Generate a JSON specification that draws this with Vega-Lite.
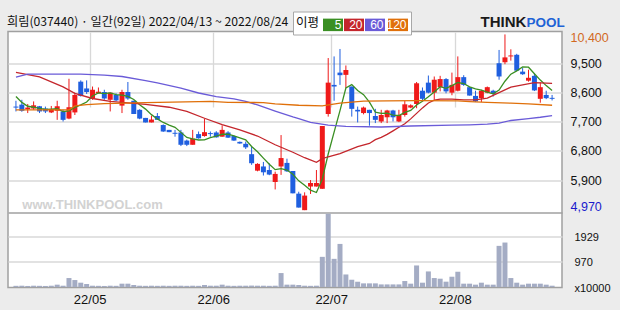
{
"$schema": "https://vega.github.io/schema/vega-lite/v6.json",
"width": 554, "height": 256,
"autosize": "none",
"padding": {"left": 8, "top": 31.5, "right": 58, "bottom": 22.5},
"background": "#ececec",
"config": {"view": {"fill": "white", "stroke": "#a0a0a0", "strokeWidth": 1.5}, "font": "Liberation Sans"},
"title": {"text": "희림(037440) · 일간(92일) 2022/04/13 ~ 2022/08/24", "anchor": "start", "frame": "group", "font": "Noto Sans CJK KR", "fontSize": 12.2, "fontWeight": "normal", "color": "#111111", "baseline": "alphabetic", "offset": -27, "dx": -1},
"datasets": {
"k": [
{"i":0,"o":8170,"h":8350,"l":8020,"c":8140,"d":"d","v":45},
{"i":1,"o":8230,"h":8380,"l":8010,"c":8040,"d":"d","v":50},
{"i":2,"o":8090,"h":8250,"l":7970,"c":8140,"d":"u","v":40},
{"i":3,"o":8110,"h":8330,"l":8070,"c":8210,"d":"u","v":50},
{"i":4,"o":8180,"h":8190,"l":7970,"c":8020,"d":"d","v":45},
{"i":5,"o":8110,"h":8170,"l":7970,"c":8020,"d":"d","v":40},
{"i":6,"o":7990,"h":8190,"l":7970,"c":8090,"d":"u","v":50},
{"i":7,"o":8040,"h":8350,"l":7760,"c":8180,"d":"u","v":90},
{"i":8,"o":8020,"h":8070,"l":7710,"c":7760,"d":"d","v":50},
{"i":9,"o":7800,"h":9030,"l":7780,"c":8150,"d":"u","v":345},
{"i":10,"o":7990,"h":8600,"l":7910,"c":8530,"d":"u","v":268},
{"i":11,"o":8940,"h":8980,"l":8480,"c":8500,"d":"d","v":166},
{"i":12,"o":8730,"h":8980,"l":8560,"c":8620,"d":"d","v":115},
{"i":13,"o":8420,"h":8790,"l":8380,"c":8690,"d":"u","v":50},
{"i":14,"o":8580,"h":8760,"l":8580,"c":8630,"d":"u","v":45},
{"i":15,"o":8620,"h":8690,"l":8380,"c":8420,"d":"d","v":40},
{"i":16,"o":8380,"h":8600,"l":8020,"c":8600,"d":"u","v":50},
{"i":17,"o":8530,"h":8580,"l":8340,"c":8360,"d":"d","v":45},
{"i":18,"o":8200,"h":8690,"l":7970,"c":8620,"d":"u","v":128},
{"i":19,"o":8620,"h":8930,"l":8380,"c":8420,"d":"d","v":128},
{"i":20,"o":8350,"h":8350,"l":7940,"c":7940,"d":"d","v":77},
{"i":21,"o":8070,"h":8090,"l":7780,"c":7800,"d":"d","v":50},
{"i":22,"o":7820,"h":7820,"l":7680,"c":7680,"d":"d","v":45},
{"i":23,"o":7680,"h":7890,"l":7680,"c":7770,"d":"u","v":50},
{"i":24,"o":7880,"h":7970,"l":7760,"c":7760,"d":"d","v":45},
{"i":25,"o":7600,"h":7620,"l":7390,"c":7400,"d":"d","v":50},
{"i":26,"o":7450,"h":7450,"l":7380,"c":7380,"d":"d","v":45},
{"i":27,"o":7360,"h":7450,"l":7240,"c":7330,"d":"d","v":50},
{"i":28,"o":7370,"h":7450,"l":6950,"c":6990,"d":"d","v":50},
{"i":29,"o":7120,"h":7150,"l":6950,"c":6990,"d":"d","v":45},
{"i":30,"o":6990,"h":7450,"l":6990,"c":7180,"d":"u","v":50},
{"i":31,"o":7320,"h":7400,"l":7180,"c":7190,"d":"d","v":45},
{"i":32,"o":7260,"h":7790,"l":7240,"c":7380,"d":"u","v":77},
{"i":33,"o":7350,"h":7400,"l":7240,"c":7320,"d":"d","v":50},
{"i":34,"o":7370,"h":7410,"l":7210,"c":7220,"d":"d","v":50},
{"i":35,"o":7240,"h":7590,"l":7240,"c":7450,"d":"u","v":90},
{"i":36,"o":7370,"h":7410,"l":7200,"c":7210,"d":"d","v":50},
{"i":37,"o":7260,"h":7280,"l":7110,"c":7120,"d":"d","v":45},
{"i":38,"o":7080,"h":7090,"l":7020,"c":7030,"d":"d","v":50},
{"i":39,"o":7020,"h":7090,"l":6860,"c":6910,"d":"d","v":50},
{"i":40,"o":6700,"h":6930,"l":6370,"c":6420,"d":"d","v":55},
{"i":41,"o":6190,"h":6420,"l":6170,"c":6400,"d":"u","v":50},
{"i":42,"o":6320,"h":6460,"l":6040,"c":6140,"d":"d","v":50},
{"i":43,"o":6210,"h":6420,"l":6050,"c":6070,"d":"d","v":45},
{"i":44,"o":5840,"h":6160,"l":5610,"c":6090,"d":"u","v":50},
{"i":45,"o":6320,"h":7290,"l":6060,"c":6580,"d":"u","v":537},
{"i":46,"o":6430,"h":6560,"l":6150,"c":6170,"d":"d","v":90},
{"i":47,"o":6180,"h":6180,"l":5490,"c":5490,"d":"d","v":90},
{"i":48,"o":5480,"h":5540,"l":5050,"c":5050,"d":"d","v":77},
{"i":49,"o":4970,"h":5520,"l":4970,"c":5420,"d":"u","v":50},
{"i":50,"o":5700,"h":5900,"l":5470,"c":5810,"d":"u","v":45},
{"i":51,"o":5700,"h":6210,"l":5700,"c":5810,"d":"u","v":50},
{"i":52,"o":5630,"h":7570,"l":5630,"c":7570,"d":"u","v":1162},
{"i":53,"o":7940,"h":9670,"l":7860,"c":8910,"d":"u","v":2823},
{"i":54,"o":8840,"h":9720,"l":8350,"c":8790,"d":"d","v":1085},
{"i":55,"o":9220,"h":9950,"l":8840,"c":9140,"d":"d","v":1660},
{"i":56,"o":9150,"h":9440,"l":8740,"c":9300,"d":"u","v":483},
{"i":57,"o":8790,"h":8790,"l":7860,"c":8100,"d":"d","v":280},
{"i":58,"o":8070,"h":8170,"l":7680,"c":8020,"d":"d","v":203},
{"i":59,"o":7970,"h":8170,"l":7930,"c":8140,"d":"u","v":140},
{"i":60,"o":8070,"h":8070,"l":7580,"c":7970,"d":"d","v":140},
{"i":61,"o":7880,"h":8100,"l":7660,"c":7760,"d":"d","v":140},
{"i":62,"o":7710,"h":8070,"l":7660,"c":7910,"d":"u","v":100},
{"i":63,"o":7840,"h":8070,"l":7660,"c":8050,"d":"u","v":100},
{"i":64,"o":8050,"h":8070,"l":7710,"c":7840,"d":"d","v":100},
{"i":65,"o":7710,"h":8070,"l":7690,"c":7910,"d":"u","v":100},
{"i":66,"o":7910,"h":8350,"l":7860,"c":8240,"d":"u","v":230},
{"i":67,"o":8140,"h":8240,"l":8120,"c":8210,"d":"u","v":128},
{"i":68,"o":8250,"h":8930,"l":8120,"c":8890,"d":"u","v":830},
{"i":69,"o":8660,"h":8760,"l":8330,"c":8410,"d":"d","v":166},
{"i":70,"o":8910,"h":9130,"l":8580,"c":8600,"d":"d","v":600},
{"i":71,"o":8600,"h":9100,"l":8380,"c":9000,"d":"u","v":345},
{"i":72,"o":8770,"h":9120,"l":8640,"c":9020,"d":"u","v":320},
{"i":73,"o":9020,"h":9050,"l":8580,"c":8640,"d":"d","v":205},
{"i":74,"o":8600,"h":9220,"l":8520,"c":8840,"d":"u","v":396},
{"i":75,"o":8660,"h":9720,"l":8640,"c":9080,"d":"u","v":588},
{"i":76,"o":9080,"h":9140,"l":8810,"c":8840,"d":"d","v":128},
{"i":77,"o":8770,"h":8770,"l":8510,"c":8510,"d":"d","v":128},
{"i":78,"o":8500,"h":8660,"l":8310,"c":8330,"d":"d","v":90},
{"i":79,"o":8430,"h":8690,"l":8310,"c":8660,"d":"u","v":166},
{"i":80,"o":8600,"h":8790,"l":8580,"c":8770,"d":"u","v":90},
{"i":81,"o":8660,"h":8690,"l":8480,"c":8560,"d":"d","v":90},
{"i":82,"o":9510,"h":9920,"l":9000,"c":9100,"d":"d","v":1585},
{"i":83,"o":9540,"h":10400,"l":9480,"c":9690,"d":"u","v":1713},
{"i":84,"o":9720,"h":9940,"l":9590,"c":9750,"d":"u","v":345},
{"i":85,"o":9770,"h":9800,"l":9270,"c":9280,"d":"d","v":166},
{"i":86,"o":9250,"h":9360,"l":9150,"c":9170,"d":"d","v":90},
{"i":87,"o":8970,"h":9310,"l":8940,"c":9060,"d":"u","v":128},
{"i":88,"o":9120,"h":9200,"l":8650,"c":8670,"d":"d","v":128},
{"i":89,"o":8410,"h":8920,"l":8290,"c":8770,"d":"u","v":128},
{"i":90,"o":8530,"h":8660,"l":8400,"c":8430,"d":"d","v":90},
{"i":91,"o":8440,"h":8530,"l":8360,"c":8410,"d":"d","v":50}
],
"m": [
{"i":0,"m":"5","v":8480},{"i":1,"m":"5","v":8300},{"i":2,"m":"5","v":8180},{"i":3,"m":"5","v":8150},{"i":4,"m":"5","v":8115},{"i":5,"m":"5","v":8084},{"i":6,"m":"5","v":8094},{"i":7,"m":"5","v":8103},{"i":8,"m":"5","v":8012},{"i":9,"m":"5","v":8039},{"i":10,"m":"5","v":8142},{"i":11,"m":"5","v":8224},{"i":12,"m":"5","v":8313},{"i":13,"m":"5","v":8499},{"i":14,"m":"5","v":8595},{"i":15,"m":"5","v":8573},{"i":16,"m":"5","v":8593},{"i":17,"m":"5","v":8540},{"i":18,"m":"5","v":8527},{"i":19,"m":"5","v":8484},{"i":20,"m":"5","v":8389},{"i":21,"m":"5","v":8228},{"i":22,"m":"5","v":8092},{"i":23,"m":"5","v":7921},{"i":24,"m":"5","v":7789},{"i":25,"m":"5","v":7680},{"i":26,"m":"5","v":7596},{"i":27,"m":"5","v":7530},{"i":28,"m":"5","v":7373},{"i":29,"m":"5","v":7218},{"i":30,"m":"5","v":7175},{"i":31,"m":"5","v":7138},{"i":32,"m":"5","v":7144},{"i":33,"m":"5","v":7214},{"i":34,"m":"5","v":7261},{"i":35,"m":"5","v":7315},{"i":36,"m":"5","v":7319},{"i":37,"m":"5","v":7268},{"i":38,"m":"5","v":7206},{"i":39,"m":"5","v":7144},{"i":40,"m":"5","v":6938},{"i":41,"m":"5","v":6775},{"i":42,"m":"5","v":6579},{"i":43,"m":"5","v":6387},{"i":44,"m":"5","v":6222},{"i":45,"m":"5","v":6255},{"i":46,"m":"5","v":6210},{"i":47,"m":"5","v":6080},{"i":48,"m":"5","v":5876},{"i":49,"m":"5","v":5742},{"i":50,"m":"5","v":5587},{"i":51,"m":"5","v":5515},{"i":52,"m":"5","v":5932},{"i":53,"m":"5","v":6705},{"i":54,"m":"5","v":7379},{"i":55,"m":"5","v":8045},{"i":56,"m":"5","v":8744},{"i":57,"m":"5","v":8849},{"i":58,"m":"5","v":8670},{"i":59,"m":"5","v":8540},{"i":60,"m":"5","v":8305},{"i":61,"m":"5","v":7996},{"i":62,"m":"5","v":7958},{"i":63,"m":"5","v":7965},{"i":64,"m":"5","v":7905},{"i":65,"m":"5","v":7894},{"i":66,"m":"5","v":7991},{"i":67,"m":"5","v":8051},{"i":68,"m":"5","v":8220},{"i":69,"m":"5","v":8334},{"i":70,"m":"5","v":8472},{"i":71,"m":"5","v":8622},{"i":72,"m":"5","v":8783},{"i":73,"m":"5","v":8732},{"i":74,"m":"5","v":8818},{"i":75,"m":"5","v":8913},{"i":76,"m":"5","v":8882},{"i":77,"m":"5","v":8781},{"i":78,"m":"5","v":8719},{"i":79,"m":"5","v":8682},{"i":80,"m":"5","v":8620},{"i":81,"m":"5","v":8565},{"i":82,"m":"5","v":8682},{"i":83,"m":"5","v":8954},{"i":84,"m":"5","v":9171},{"i":85,"m":"5","v":9274},{"i":86,"m":"5","v":9396},{"i":87,"m":"5","v":9387},{"i":88,"m":"5","v":9183},{"i":89,"m":"5","v":8989},{"i":90,"m":"5","v":8818},{"i":91,"m":"5","v":8670},
{"i":0,"m":"20","v":9230},{"i":4,"m":"20","v":9090},{"i":8,"m":"20","v":8780},{"i":10,"m":"20","v":8580},{"i":13,"m":"20","v":8420},{"i":16,"m":"20","v":8330},{"i":20,"m":"20","v":8270},{"i":22,"m":"20","v":8240},{"i":26,"m":"20","v":8150},{"i":29,"m":"20","v":8020},{"i":32,"m":"20","v":7810},{"i":35,"m":"20","v":7610},{"i":38,"m":"20","v":7450},{"i":41,"m":"20","v":7260},{"i":44,"m":"20","v":6990},{"i":47,"m":"20","v":6760},{"i":49,"m":"20","v":6590},{"i":51,"m":"20","v":6450},{"i":52,"m":"20","v":6560},{"i":53,"m":"20","v":6620},{"i":55,"m":"20","v":6720},{"i":58,"m":"20","v":6930},{"i":60,"m":"20","v":7030},{"i":61,"m":"20","v":7150},{"i":62,"m":"20","v":7220},{"i":63,"m":"20","v":7310},{"i":64,"m":"20","v":7420},{"i":65,"m":"20","v":7530},{"i":66,"m":"20","v":7640},{"i":67,"m":"20","v":7790},{"i":68,"m":"20","v":7960},{"i":69,"m":"20","v":8130},{"i":70,"m":"20","v":8280},{"i":71,"m":"20","v":8370},{"i":72,"m":"20","v":8400},{"i":74,"m":"20","v":8400},{"i":76,"m":"20","v":8380},{"i":78,"m":"20","v":8380},{"i":80,"m":"20","v":8430},{"i":82,"m":"20","v":8600},{"i":84,"m":"20","v":8770},{"i":86,"m":"20","v":8840},{"i":88,"m":"20","v":8910},{"i":91,"m":"20","v":8890},
{"i":0,"m":"60","v":9080},{"i":2,"m":"60","v":9170},{"i":11,"m":"60","v":9170},{"i":15,"m":"60","v":9140},{"i":18,"m":"60","v":9100},{"i":22,"m":"60","v":8975},{"i":24,"m":"60","v":8900},{"i":28,"m":"60","v":8740},{"i":31,"m":"60","v":8590},{"i":34,"m":"60","v":8480},{"i":37,"m":"60","v":8408},{"i":39,"m":"60","v":8330},{"i":41,"m":"60","v":8220},{"i":44,"m":"60","v":8030},{"i":47,"m":"60","v":7850},{"i":48,"m":"60","v":7800},{"i":50,"m":"60","v":7680},{"i":53,"m":"60","v":7600},{"i":56,"m":"60","v":7560},{"i":62,"m":"60","v":7540},{"i":67,"m":"60","v":7570},{"i":74,"m":"60","v":7595},{"i":77,"m":"60","v":7605},{"i":80,"m":"60","v":7625},{"i":82,"m":"60","v":7660},{"i":84,"m":"60","v":7740},{"i":87,"m":"60","v":7800},{"i":89,"m":"60","v":7840},{"i":91,"m":"60","v":7890},
{"i":0,"m":"120","v":8070},{"i":9,"m":"120","v":8070},{"i":10,"m":"120","v":8190},{"i":12,"m":"120","v":8230},{"i":15,"m":"120","v":8260},{"i":22,"m":"120","v":8290},{"i":31,"m":"120","v":8325},{"i":33,"m":"120","v":8330},{"i":36,"m":"120","v":8300},{"i":42,"m":"120","v":8295},{"i":44,"m":"120","v":8253},{"i":48,"m":"120","v":8212},{"i":52,"m":"120","v":8191},{"i":55,"m":"120","v":8274},{"i":59,"m":"120","v":8336},{"i":63,"m":"120","v":8345},{"i":68,"m":"120","v":8356},{"i":75,"m":"120","v":8345},{"i":77,"m":"120","v":8325},{"i":80,"m":"120","v":8300},{"i":84,"m":"120","v":8274},{"i":87,"m":"120","v":8253},{"i":91,"m":"120","v":8212}
]
},
"encoding": {
"x": {"field": "i", "type": "quantitative", "scale": {"domain": [-0.5, 91.833], "nice": false, "zero": false},
 "axis": {"values": [12.5, 33.5, 53.5, 74.5], "labelExpr": "datum.value < 20 ? '22/05' : datum.value < 40 ? '22/06' : datum.value < 60 ? '22/07' : '22/08'", "grid": true, "gridColor": "#d8d8d8", "gridWidth": 1.3, "ticks": false, "domain": false, "labelFontSize": 13, "labelColor": "#111111", "labelPadding": 6, "labelFlush": false, "labelOverlap": false,
  "title": "www.THINKPOOL.com", "titleX": 84, "titleY": -79, "titleAlign": "center", "titleBaseline": "alphabetic", "titleColor": "#d2d2d2", "titleFontSize": 13, "titleFontWeight": "bold"}}
},
"layer": [
{"data": {"name": "k"}, "mark": {"type": "bar", "width": 5, "color": "#a4acc4"},
 "encoding": {"y": {"field": "v", "type": "quantitative", "scale": {"domain": [0, 2890], "range": [255.5, 180.5], "nice": false, "zero": true},
  "axis": {"orient": "right", "values": [0, 970, 1929, 2890], "format": "d", "labelExpr": "datum.value == 0 ? 'x10000' : datum.value > 2000 ? '' : datum.label", "grid": true, "gridWidth": 1.3,
   "gridColor": {"condition": [{"test": "datum.value == 0", "value": "transparent"}, {"test": "datum.value > 2000", "value": "#a0a0a0"}], "value": "#d8d8d8"},
   "ticks": false, "domain": false, "labelFontSize": 11, "labelPadding": 12, "labelOffset": 1, "labelColor": "#111111", "labelBaseline": "middle",
   "title": "POOL", "titleAngle": 0, "titleX": -36, "titleY": -5, "titleAlign": "left", "titleBaseline": "alphabetic", "titleFontSize": 13.5, "titleFontWeight": "bold", "titleColor": "#1e63d6"}}}
},
{"layer": [
 {"data": {"name": "k"}, "mark": {"type": "rule", "strokeWidth": 1},
  "encoding": {
   "y": {"field": "l", "type": "quantitative", "scale": {"domain": [4913, 10490], "range": [180.5, 0], "nice": false, "zero": false},
    "axis": {"orient": "right", "values": [4970, 5900, 6800, 7700, 8600, 9500, 10400], "format": ",d", "grid": true, "gridWidth": 1.3,
     "gridColor": {"condition": {"test": "datum.value == 10400 || datum.value == 4970", "value": "transparent"}, "value": "#d8d8d8"},
     "labelColor": {"condition": [{"test": "datum.value == 10400", "value": "#d2691e"}, {"test": "datum.value == 4970", "value": "#1a1acc"}], "value": "#111111"},
     "labelOffset": {"condition": [{"test": "datum.value == 10400", "value": 3.5}, {"test": "datum.value == 4970", "value": -3.5}], "value": 0},
     "labelBaseline": "middle",
     "ticks": false, "domain": false, "labelFontSize": 12.5, "labelPadding": 8,
     "title": "THINK", "titleAngle": 0, "titleX": -82, "titleY": -5, "titleAlign": "left", "titleBaseline": "alphabetic", "titleFontSize": 15, "titleFontWeight": "bold", "titleColor": "#1a1a1a"}},
   "y2": {"field": "h"},
   "color": {"condition": {"test": "datum.d == 'u'", "value": "#ef1a1a"}, "value": "#1f5fdf"}
  }},
 {"data": {"name": "k"}, "mark": {"type": "bar", "width": 5},
  "encoding": {
   "y": {"field": "o", "type": "quantitative"},
   "y2": {"field": "c"},
   "color": {"condition": {"test": "datum.d == 'u'", "value": "#ef1a1a"}, "value": "#1f5fdf"}
  }},
 {"data": {"name": "m"}, "mark": {"type": "line", "strokeWidth": 1.3},
  "encoding": {
   "y": {"field": "v", "type": "quantitative"},
   "color": {"field": "m", "type": "nominal", "scale": {"domain": ["5", "20", "60", "120"], "range": ["#3a8f23", "#c4262c", "#6a5bd8", "#e0700a"]},
    "legend": {"title": "이평", "orient": "none", "legendX": 285, "legendY": -20, "direction": "horizontal", "padding": 3, "fillColor": "white", "strokeColor": "#a8a8a8",
     "titleOrient": "left", "titleFont": "Noto Sans CJK KR", "titleFontSize": 12.5, "titleFontWeight": "normal", "titleColor": "#111111", "titlePadding": 3, "titleBaseline": "middle",
     "symbolType": "M-1,-0.625H1V0.625H-1Z", "symbolSize": 400, "symbolStrokeWidth": 0, "columnPadding": 1,
     "labelOffset": -1.5, "labelAlign": "right", "labelColor": "white", "labelFontSize": 12, "labelFont": "Liberation Sans",
     "encode": {"symbols": {"update": {"fill": {"scale": "color", "field": "value"}, "stroke": {"value": "transparent"}, "opacity": {"value": 1}}}}}}
  }}
]}
],
"resolve": {"scale": {"y": "independent"}, "axis": {"y": "independent"}}
}
